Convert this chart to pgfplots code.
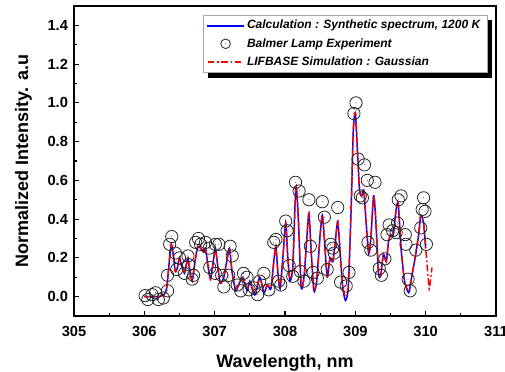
\documentclass[border=0pt]{standalone}
\usepackage{pgfplots}
\pgfplotsset{compat=1.18}
\usepackage{fontspec}
\setmainfont{Liberation Sans}
\pgfdeclarelayer{background}
\pgfsetlayers{background,main}
\pgfdeclareplotmark{odot}{%
  \pgfpathcircle{\pgfpoint{0pt}{0pt}}{\pgfplotmarksize}\pgfusepathqstroke
  \pgfpathcircle{\pgfpoint{0pt}{0pt}}{0.35pt}\pgfusepathqfill}
\definecolor{lineblue}{RGB}{0,0,255}
\begin{document}
\begin{tikzpicture}
\useasboundingbox (-55.5pt,-41.25pt) rectangle (323.25pt,237pt);
\begin{axis}[
  at={(0,0)}, anchor=south west,
  scale only axis, width=316.5pt, height=232.5pt,
  xmin=305, xmax=311, ymin=-0.1, ymax=1.5,
  xtick={305,306,...,311}, minor x tick num=1,
  ytick={0,0.2,...,1.4}, minor y tick num=1,
  xtick pos=bottom, ytick pos=left, tick align=inside,
  major tick length=4pt, minor tick length=2pt,
  axis line style={line width=1.3pt},
  every tick/.style={black, line width=0.8pt},
  /pgf/number format/assume math mode=true,
  xticklabel style={font=\bfseries\fontsize{11}{13}\selectfont, yshift=-4pt, /pgf/number format/.cd, fixed, precision=0, 1000 sep={}},
  yticklabel style={font=\bfseries\fontsize{11}{13}\selectfont, xshift=-1pt, /pgf/number format/.cd, fixed, fixed zerofill, precision=1},
  xlabel={Wavelength, nm},
  ylabel={Normalized Intensity. a.u},
  label style={font=\bfseries\fontsize{13.5}{16}\selectfont},
  xlabel style={yshift=-6.5pt},
  ylabel style={yshift=5pt},
  legend cell align=left,
  legend style={name=leg, at={(0.979,0.972)}, anchor=north east, draw=gray!70, fill=white,
    font=\bfseries\itshape\fontsize{9}{11}\selectfont, row sep=1.6pt, inner xsep=3pt, inner ysep=2pt},
]
\addlegendimage{legend image code/.code={\fill[lineblue] (0cm,-0.6pt) rectangle (0.95cm,0.6pt);}}
\addlegendentry{Calculation : Synthetic spectrum, 1200 K}
\addlegendimage{legend image code/.code={\draw[black!85, fill=black!85, line width=0.6pt] plot[mark=odot, mark size=3.6pt] coordinates {(0.475cm,0cm)};}}
\addlegendentry{Balmer Lamp Experiment}
\addlegendimage{legend image code/.code={\draw[color=red, line width=1.1pt, dash pattern=on 5pt off 2pt on 1.2pt off 2pt] (0cm,0cm) -- (0.95cm,0cm);}}
\addlegendentry{LIFBASE Simulation : Gaussian}
\addplot[forget plot, lineblue, line width=1.1pt, smooth, tension=0.4] coordinates {
(306.00,0.00)(306.10,0.00)(306.20,0.00)(306.28,0.01)(306.32,0.05)(306.36,0.20)(306.385,0.27)
(306.41,0.22)(306.44,0.13)(306.47,0.15)(306.50,0.20)(306.53,0.16)(306.57,0.12)(306.60,0.17)
(306.62,0.20)(306.65,0.13)(306.68,0.08)(306.72,0.18)(306.76,0.26)(306.80,0.25)(306.84,0.23)
(306.87,0.25)(306.90,0.17)(306.94,0.09)(306.98,0.18)(307.01,0.25)(307.04,0.17)(307.08,0.07)
(307.13,0.10)(307.18,0.20)(307.21,0.25)(307.25,0.12)(307.30,0.03)(307.34,0.06)(307.40,0.10)
(307.46,0.03)(307.50,0.08)(307.54,0.03)(307.58,0.01)(307.64,0.10)(307.70,0.02)(307.75,0.06)
(307.80,0.04)(307.84,0.18)(307.87,0.26)(307.90,0.12)(307.93,0.04)(307.97,0.20)(308.01,0.38)
(308.04,0.20)(308.07,0.08)(308.11,0.15)(308.14,0.45)(308.16,0.57)(308.19,0.40)(308.23,0.05)
(308.27,0.10)(308.31,0.30)(308.34,0.43)(308.37,0.25)(308.41,0.03)(308.45,0.08)(308.50,0.32)
(308.53,0.42)(308.56,0.30)(308.60,0.10)(308.64,0.20)(308.68,0.18)(308.72,0.30)(308.75,0.39)
(308.78,0.25)(308.82,0.05)(308.86,-0.02)(308.90,0.05)(308.94,0.45)(308.97,0.85)(309.00,0.95)
(309.03,0.75)(309.06,0.55)(309.09,0.52)(309.12,0.55)(309.15,0.40)(309.19,0.22)(309.22,0.30)
(309.26,0.52)(309.29,0.40)(309.33,0.12)(309.36,0.11)(309.40,0.22)(309.44,0.18)(309.47,0.28)
(309.50,0.32)(309.54,0.32)(309.58,0.45)(309.61,0.48)(309.65,0.25)(309.70,0.08)(309.76,0.02)
(309.80,0.10)(309.85,0.20)(309.90,0.32)(309.93,0.42)(309.97,0.38)(310.00,0.25)
};
\addplot[forget plot, only marks, mark=odot, mark size=4.6pt, draw=black!85, fill=black!85, line width=0.6pt] coordinates {
(306.01,0.005)(306.05,-0.015)(306.11,0.01)(306.16,0.02)(306.20,-0.015)(306.27,-0.007)
(306.33,0.03)(306.33,0.11)(306.36,0.27)(306.39,0.31)(306.44,0.225)(306.46,0.14)(306.50,0.20)
(306.57,0.12)(306.62,0.21)(306.63,0.165)(306.68,0.09)(306.70,0.11)(306.73,0.28)(306.77,0.30)
(306.80,0.27)(306.87,0.28)(306.92,0.25)(306.93,0.15)(307.01,0.27)(307.01,0.12)(307.06,0.27)
(307.10,0.11)(307.13,0.05)(307.20,0.11)(307.22,0.26)(307.25,0.21)(307.32,0.06)(307.37,0.03)
(307.41,0.12)(307.46,0.10)(307.49,0.035)(307.56,0.045)(307.61,0.01)(307.64,0.08)(307.70,0.12)
(307.77,0.035)(307.84,0.28)(307.87,0.295)(307.91,0.08)(307.94,0.06)(308.01,0.39)(308.03,0.34)
(308.06,0.16)(308.11,0.105)(308.15,0.59)(308.20,0.545)(308.22,0.13)(308.27,0.08)(308.34,0.50)
(308.36,0.26)(308.40,0.125)(308.46,0.095)(308.53,0.49)(308.56,0.41)(308.60,0.14)(308.65,0.27)
(308.68,0.25)(308.70,0.225)(308.75,0.46)(308.79,0.075)(308.87,0.055)(308.91,0.125)
(308.98,0.945)(309.01,1.00)(309.04,0.71)(309.07,0.52)(309.10,0.51)(309.13,0.68)(309.17,0.60)
(309.18,0.28)(309.22,0.24)(309.28,0.59)(309.34,0.145)(309.37,0.11)(309.42,0.195)(309.45,0.32)
(309.48,0.37)(309.53,0.34)(309.58,0.33)(309.60,0.38)(309.61,0.50)(309.65,0.52)(309.71,0.32)
(309.72,0.27)(309.75,0.09)(309.78,0.03)(309.86,0.24)(309.93,0.355)(309.95,0.45)(309.97,0.51)
(309.99,0.44)(310.01,0.27)
};
\addplot[forget plot, red, line width=1.1pt, smooth, tension=0.4, dash pattern=on 5pt off 2pt on 1.2pt off 2pt] coordinates {
(306.00,0.00)(306.10,0.00)(306.20,0.00)(306.28,0.01)(306.32,0.05)(306.36,0.21)(306.385,0.27)
(306.41,0.22)(306.44,0.13)(306.47,0.15)(306.50,0.20)(306.53,0.16)(306.57,0.12)(306.60,0.17)
(306.62,0.20)(306.65,0.13)(306.68,0.08)(306.72,0.18)(306.76,0.26)(306.80,0.25)(306.84,0.23)
(306.87,0.25)(306.90,0.17)(306.94,0.09)(306.98,0.18)(307.01,0.25)(307.04,0.17)(307.08,0.07)
(307.13,0.10)(307.18,0.20)(307.21,0.25)(307.25,0.12)(307.30,0.04)(307.34,0.06)(307.40,0.10)
(307.46,0.04)(307.50,0.08)(307.54,0.04)(307.58,0.02)(307.64,0.10)(307.70,0.03)(307.75,0.06)
(307.80,0.05)(307.84,0.18)(307.87,0.26)(307.90,0.12)(307.93,0.05)(307.97,0.20)(308.01,0.38)
(308.04,0.20)(308.07,0.09)(308.11,0.15)(308.14,0.45)(308.16,0.57)(308.19,0.40)(308.23,0.06)
(308.27,0.10)(308.31,0.30)(308.34,0.43)(308.37,0.25)(308.41,0.04)(308.45,0.08)(308.50,0.32)
(308.53,0.42)(308.56,0.30)(308.60,0.10)(308.64,0.20)(308.68,0.18)(308.72,0.30)(308.75,0.39)
(308.78,0.25)(308.82,0.06)(308.86,0.00)(308.90,0.06)(308.94,0.45)(308.97,0.85)(309.00,0.95)
(309.03,0.75)(309.06,0.55)(309.09,0.52)(309.12,0.55)(309.15,0.40)(309.19,0.22)(309.22,0.30)
(309.26,0.52)(309.29,0.40)(309.33,0.12)(309.36,0.11)(309.40,0.22)(309.44,0.18)(309.47,0.28)
(309.50,0.32)(309.54,0.32)(309.58,0.45)(309.61,0.48)(309.65,0.25)(309.70,0.08)(309.76,0.03)
(309.80,0.10)(309.85,0.20)(309.90,0.32)(309.93,0.42)(309.97,0.38)(310.00,0.25)(310.03,0.12)
(310.05,0.04)(310.07,0.09)(310.09,0.15)
};
\end{axis}
\begin{pgfonlayer}{background}
\fill[black] ([xshift=4pt,yshift=-4pt]leg.south west) rectangle ([xshift=4pt,yshift=-4pt]leg.north east);
\end{pgfonlayer}
\end{tikzpicture}
\end{document}
